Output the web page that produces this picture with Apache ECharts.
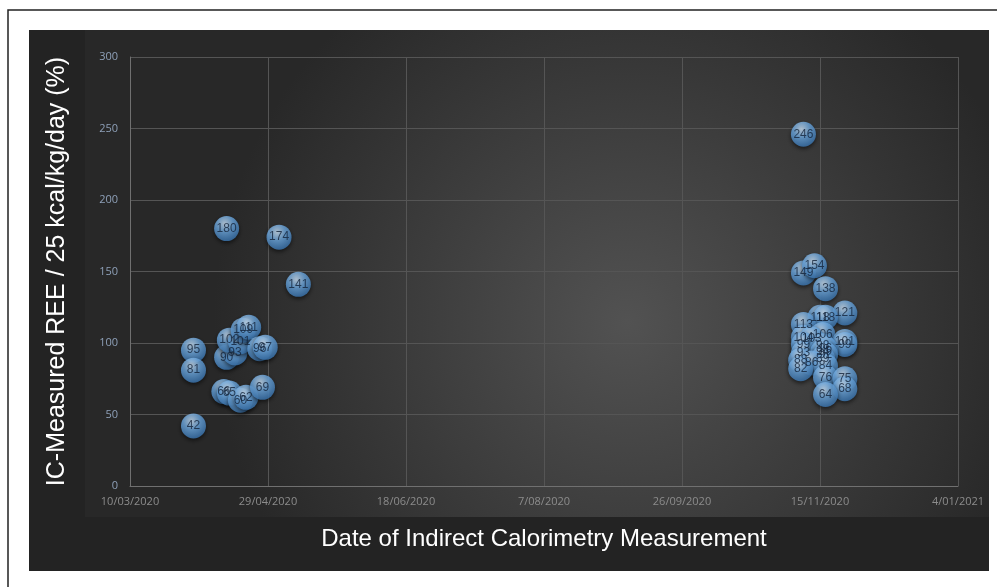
<!DOCTYPE html>
<html>
<head>
<meta charset="utf-8">
<script src="https://cdn.jsdelivr.net/npm/echarts@6/dist/echarts.min.js"></script>
<style>
html, body { margin: 0; padding: 0; background: #fff; }
#main { width: 997px; height: 587px; }
</style>
</head>
<body>
<div id="main"></div>
<script>
// measurement dates and IC REE / 25 kcal/kg/day (%)
var dates = [
    '2020-04-02', '2020-04-02', '2020-04-02', '2020-04-14', '2020-04-13', '2020-04-15',
    '2020-04-14', '2020-04-17', '2020-04-15', '2020-04-19', '2020-04-20', '2020-04-22',
    '2020-04-19', '2020-04-21', '2020-04-27', '2020-04-26', '2020-04-28', '2020-05-03',
    '2020-05-10',
    '2020-11-09', '2020-11-09', '2020-11-13', '2020-11-17', '2020-11-24', '2020-11-15',
    '2020-11-17', '2020-11-09', '2020-11-16', '2020-11-09', '2020-11-12', '2020-11-24',
    '2020-11-24', '2020-11-09', '2020-11-09', '2020-11-16', '2020-11-17', '2020-11-16',
    '2020-11-17', '2020-11-16', '2020-11-08', '2020-11-12', '2020-11-17', '2020-11-08',
    '2020-11-17', '2020-11-24', '2020-11-24', '2020-11-17'
];
var values = [
    95, 81, 42, 180, 66, 65,
    90, 93, 102, 101, 109, 111,
    60, 62, 69, 96, 97, 174,
    141,
    246, 149, 154, 138, 121, 118,
    118, 113, 106, 104, 103, 101,
    99, 99, 93, 98, 96, 94,
    92, 89, 88, 86, 84, 82,
    76, 75, 68, 64
];
var xStart = '2020-03-10';
var xTickStep = 50; // days
var xTickCount = 6;
var yTicks = [0, 50, 100, 150, 200, 250, 300];

var DAY = 86400000;
function dayOf(s) {
    var p = s.split('-');
    return Date.UTC(+p[0], +p[1] - 1, +p[2]);
}
var t0 = dayOf(xStart);
function fmtDay(d) {
    var dt = new Date(t0 + d * DAY);
    var m = dt.getUTCMonth() + 1;
    return dt.getUTCDate() + '/' + (m < 10 ? '0' + m : m) + '/' + dt.getUTCFullYear();
}

var points = [];
for (var i = 0; i < dates.length; i++) {
    points.push([(dayOf(dates[i]) - t0) / DAY, values[i]]);
}

var chart = echarts.init(document.getElementById('main'));
chart.setOption({
    backgroundColor: '#fff',
    animation: false,
    graphic: {
        elements: [
            { type: 'rect', z: -20, shape: { x: 8, y: 10, width: 1010, height: 600 },
              style: { fill: '#fff', stroke: '#222', lineWidth: 1.5 } },
            { type: 'rect', z: -19, shape: { x: 29, y: 30, width: 960, height: 541 },
              style: { fill: '#232323' } },
            { type: 'rect', z: -18, shape: { x: 85, y: 30, width: 904, height: 487 },
              style: {
                  fill: new echarts.graphic.RadialGradient(0.6, 0.6, 0.85, [
                      { offset: 0, color: '#525252' },
                      { offset: 1, color: '#282828' }
                  ])
              } }
        ]
    },
    grid: { left: 130, right: 39, top: 57, bottom: 101 },
    xAxis: {
        type: 'value',
        min: 0,
        max: xTickStep * xTickCount,
        interval: xTickStep,
        name: 'Date of Indirect Calorimetry Measurement',
        nameLocation: 'middle',
        nameGap: 41,
        nameTextStyle: { color: '#fff', fontSize: 24, fontFamily: 'Liberation Sans' },
        axisLine: { lineStyle: { color: '#707070' } },
        axisTick: { show: false },
        axisLabel: {
            color: '#8c8c8c', fontSize: 11, margin: 10, fontFamily: 'Open Sans',
            formatter: function (v) { return fmtDay(v); }
        },
        splitLine: { show: true, lineStyle: { color: '#555' } }
    },
    yAxis: {
        type: 'value',
        min: yTicks[0],
        max: yTicks[yTicks.length - 1],
        interval: yTicks[1] - yTicks[0],
        name: 'IC-Measured REE / 25 kcal/kg/day (%)',
        nameLocation: 'middle',
        nameGap: 60,
        nameTextStyle: { color: '#fff', fontSize: 25, fontFamily: 'Liberation Sans' },
        axisLine: { show: true, lineStyle: { color: '#707070' } },
        axisTick: { show: false },
        axisLabel: { color: '#8ea0b8', fontSize: 11, margin: 12, fontFamily: 'Open Sans' },
        splitLine: { show: true, lineStyle: { color: '#555' } }
    },
    series: [{
        type: 'scatter',
        data: points,
        symbolSize: 25,
        itemStyle: {
            color: new echarts.graphic.RadialGradient(0.42, 0.3, 0.75, [
                { offset: 0, color: '#cfe5f9' },
                { offset: 0.45, color: '#6eaae2' },
                { offset: 1, color: '#3570ac' }
            ]),
            shadowBlur: 4,
            shadowColor: 'rgba(0,0,0,0.7)',
            shadowOffsetY: 2
        },
        label: {
            show: true,
            position: 'inside',
            color: '#13233a',
            fontSize: 12,
            fontFamily: 'Liberation Sans',
            formatter: function (p) { return p.value[1]; }
        }
    }]
});
</script>
</body>
</html>
